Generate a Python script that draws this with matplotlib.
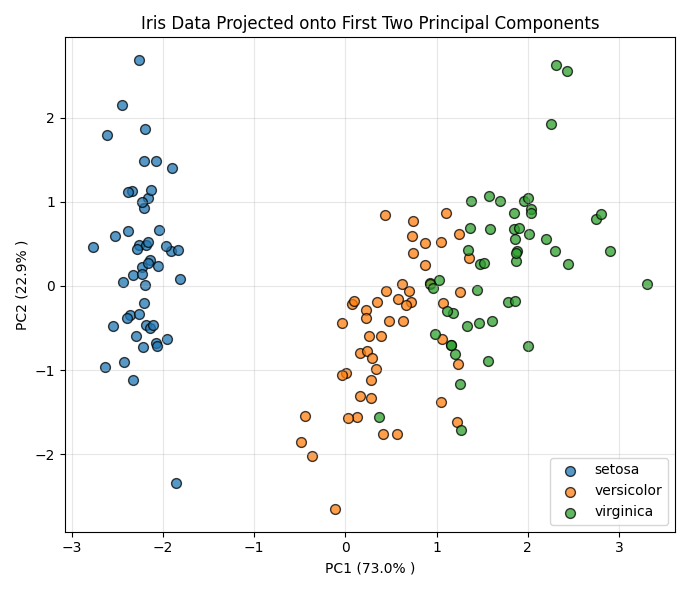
import numpy as np
import matplotlib
matplotlib.use("Agg")
import matplotlib.pyplot as plt

# iris measurements: sepal length, sepal width, petal length, petal width
setosa = [
    [5.1,3.5,1.4,0.2],[4.9,3.0,1.4,0.2],[4.7,3.2,1.3,0.2],[4.6,3.1,1.5,0.2],[5.0,3.6,1.4,0.2],
    [5.4,3.9,1.7,0.4],[4.6,3.4,1.4,0.3],[5.0,3.4,1.5,0.2],[4.4,2.9,1.4,0.2],[4.9,3.1,1.5,0.1],
    [5.4,3.7,1.5,0.2],[4.8,3.4,1.6,0.2],[4.8,3.0,1.4,0.1],[4.3,3.0,1.1,0.1],[5.8,4.0,1.2,0.2],
    [5.7,4.4,1.5,0.4],[5.4,3.9,1.3,0.4],[5.1,3.5,1.4,0.3],[5.7,3.8,1.7,0.3],[5.1,3.8,1.5,0.3],
    [5.4,3.4,1.7,0.2],[5.1,3.7,1.5,0.4],[4.6,3.6,1.0,0.2],[5.1,3.3,1.7,0.5],[4.8,3.4,1.9,0.2],
    [5.0,3.0,1.6,0.2],[5.0,3.4,1.6,0.4],[5.2,3.5,1.5,0.2],[5.2,3.4,1.4,0.2],[4.7,3.2,1.6,0.2],
    [4.8,3.1,1.6,0.2],[5.4,3.4,1.5,0.4],[5.2,4.1,1.5,0.1],[5.5,4.2,1.4,0.2],[4.9,3.1,1.5,0.2],
    [5.0,3.2,1.2,0.2],[5.5,3.5,1.3,0.2],[4.9,3.6,1.4,0.1],[4.4,3.0,1.3,0.2],[5.1,3.4,1.5,0.2],
    [5.0,3.5,1.3,0.3],[4.5,2.3,1.3,0.3],[4.4,3.2,1.3,0.2],[5.0,3.5,1.6,0.6],[5.1,3.8,1.9,0.4],
    [4.8,3.0,1.4,0.3],[5.1,3.8,1.6,0.2],[4.6,3.2,1.4,0.2],[5.3,3.7,1.5,0.2],[5.0,3.3,1.4,0.2]]
versicolor = [
    [7.0,3.2,4.7,1.4],[6.4,3.2,4.5,1.5],[6.9,3.1,4.9,1.5],[5.5,2.3,4.0,1.3],[6.5,2.8,4.6,1.5],
    [5.7,2.8,4.5,1.3],[6.3,3.3,4.7,1.6],[4.9,2.4,3.3,1.0],[6.6,2.9,4.6,1.3],[5.2,2.7,3.9,1.4],
    [5.0,2.0,3.5,1.0],[5.9,3.0,4.2,1.5],[6.0,2.2,4.0,1.0],[6.1,2.9,4.7,1.4],[5.6,2.9,3.6,1.3],
    [6.7,3.1,4.4,1.4],[5.6,3.0,4.5,1.5],[5.8,2.7,4.1,1.0],[6.2,2.2,4.5,1.5],[5.6,2.5,3.9,1.1],
    [5.9,3.2,4.8,1.8],[6.1,2.8,4.0,1.3],[6.3,2.5,4.9,1.5],[6.1,2.8,4.7,1.2],[6.4,2.9,4.3,1.3],
    [6.6,3.0,4.4,1.4],[6.8,2.8,4.8,1.4],[6.7,3.0,5.0,1.7],[6.0,2.9,4.5,1.5],[5.7,2.6,3.5,1.0],
    [5.5,2.4,3.8,1.1],[5.5,2.4,3.7,1.0],[5.8,2.7,3.9,1.2],[6.0,2.7,5.1,1.6],[5.4,3.0,4.5,1.5],
    [6.0,3.4,4.5,1.6],[6.7,3.1,4.7,1.5],[6.3,2.3,4.4,1.3],[5.6,3.0,4.1,1.3],[5.5,2.5,4.0,1.3],
    [5.5,2.6,4.4,1.2],[6.1,3.0,4.6,1.4],[5.8,2.6,4.0,1.2],[5.0,2.3,3.3,1.0],[5.6,2.7,4.2,1.3],
    [5.7,3.0,4.2,1.2],[5.7,2.9,4.2,1.3],[6.2,2.9,4.3,1.3],[5.1,2.5,3.0,1.1],[5.7,2.8,4.1,1.3]]
virginica = [
    [6.3,3.3,6.0,2.5],[5.8,2.7,5.1,1.9],[7.1,3.0,5.9,2.1],[6.3,2.9,5.6,1.8],[6.5,3.0,5.8,2.2],
    [7.6,3.0,6.6,2.1],[4.9,2.5,4.5,1.7],[7.3,2.9,6.3,1.8],[6.7,2.5,5.8,1.8],[7.2,3.6,6.1,2.5],
    [6.5,3.2,5.1,2.0],[6.4,2.7,5.3,1.9],[6.8,3.0,5.5,2.1],[5.7,2.5,5.0,2.0],[5.8,2.8,5.1,2.4],
    [6.4,3.2,5.3,2.3],[6.5,3.0,5.5,1.8],[7.7,3.8,6.7,2.2],[7.7,2.6,6.9,2.3],[6.0,2.2,5.0,1.5],
    [6.9,3.2,5.7,2.3],[5.6,2.8,4.9,2.0],[7.7,2.8,6.7,2.0],[6.3,2.7,4.9,1.8],[6.7,3.3,5.7,2.1],
    [7.2,3.2,6.0,1.8],[6.2,2.8,4.8,1.8],[6.1,3.0,4.9,1.8],[6.4,2.8,5.6,2.1],[7.2,3.0,5.8,1.6],
    [7.4,2.8,6.1,1.9],[7.9,3.8,6.4,2.0],[6.4,2.8,5.6,2.2],[6.3,2.8,5.1,1.5],[6.1,2.6,5.6,1.4],
    [7.7,3.0,6.1,2.3],[6.3,3.4,5.6,2.4],[6.4,3.1,5.5,1.8],[6.0,3.0,4.8,1.8],[6.9,3.1,5.4,2.1],
    [6.7,3.1,5.6,2.4],[6.9,3.1,5.1,2.3],[5.8,2.7,5.1,1.9],[6.8,3.2,5.9,2.3],[6.7,3.3,5.7,2.5],
    [6.7,3.0,5.2,2.3],[6.3,2.5,5.0,1.9],[6.5,3.0,5.2,2.0],[6.2,3.4,5.4,2.3],[5.9,3.0,5.1,1.8]]
species = ["setosa", "versicolor", "virginica"]
colors = ["#1f77b4", "#ff7f0e", "#2ca02c"]

#%% PCA on standardized data
X = np.array(setosa + versicolor + virginica)
y = np.repeat([0, 1, 2], 50)
Xs = (X - X.mean(axis=0)) / X.std(axis=0)
cov = np.cov(Xs, rowvar=False)
vals, vecs = np.linalg.eigh(cov)
order = np.argsort(vals)[::-1]
vals, vecs = vals[order], vecs[:, order]
Z = Xs @ vecs[:, :2]
# sign convention: setosa on negative PC1, first sample positive PC2
if Z[y == 0, 0].mean() > 0:
    Z[:, 0] *= -1
if Z[0, 1] < 0:
    Z[:, 1] *= -1
ratio = vals / vals.sum()

#%% plot
fig, ax = plt.subplots(figsize=(6.9, 5.9), dpi=100)
for k, (name, c) in enumerate(zip(species, colors)):
    ax.scatter(Z[y == k, 0], Z[y == k, 1], c=c, s=50, alpha=0.75,
               edgecolors='k', label=name)
ax.set_xlabel(f"PC1 ({ratio[0]*100:.1f}% )")
ax.set_ylabel(f"PC2 ({ratio[1]*100:.1f}% )")
ax.set_title("Iris Data Projected onto First Two Principal Components")
ax.legend(loc='lower right')
ax.grid(True, alpha=0.3)
plt.tight_layout()
plt.savefig("out.png")
